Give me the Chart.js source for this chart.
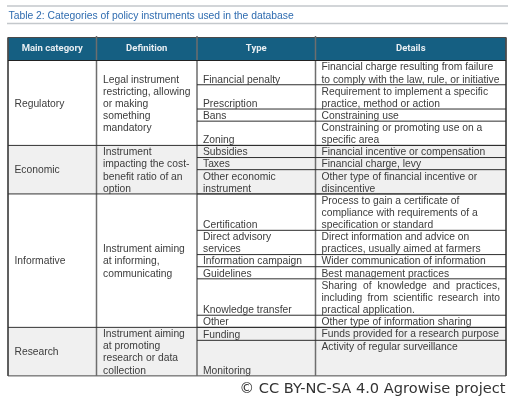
<!DOCTYPE html>
<html>
<head>
<meta charset="utf-8">
<style>
  html, body { margin: 0; padding: 0; background: #fff; }
  canvas { display: block; }
</style>
<script src="https://cdn.jsdelivr.net/npm/chart.js@4/dist/chart.umd.min.js"></script>
</head>
<body>
<canvas id="table" width="512" height="405"></canvas>
<script>
const titleText = 'Table 2: Categories of policy instruments used in the database';
const creditText = '© CC BY-NC-SA 4.0 Agrowise project';
const headers = ['Main category', 'Definition', 'Type', 'Details'];

const mainCategories = ['Regulatory', 'Economic', 'Informative', 'Research'];
const categoryRowCounts = [4, 3, 6, 2];
const definitions = [
    ['Legal instrument', 'restricting, allowing', 'or making', 'something', 'mandatory'],
    ['Instrument', 'impacting the cost-', 'benefit ratio of an', 'option'],
    ['Instrument aiming', 'at informing,', 'communicating'],
    ['Instrument aiming', 'at promoting', 'research or data', 'collection']
];
const types = [
    ['Financial penalty'], ['Prescription'], ['Bans'], ['Zoning'],
    ['Subsidies'], ['Taxes'], ['Other economic', 'instrument'],
    ['Certification'], ['Direct advisory', 'services'], ['Information campaign'],
    ['Guidelines'], ['Knowledge transfer'], ['Other'],
    ['Funding'], ['Monitoring']
];
const details = [
    ['Financial charge resulting from failure', 'to comply with the law, rule, or initiative'],
    ['Requirement to implement a specific', 'practice, method or action'],
    ['Constraining use'],
    ['Constraining or promoting use on a', 'specific area'],
    ['Financial incentive or compensation'],
    ['Financial charge, levy'],
    ['Other type of financial incentive or', 'disincentive'],
    ['Process to gain a certificate of', 'compliance with requirements of a', 'specification or standard'],
    ['Direct information and advice on', 'practices, usually aimed at farmers'],
    ['Wider communication of information'],
    ['Best management practices'],
    ['Sharing of knowledge and practices,', 'including from scientific research into', 'practical application.'],
    ['Other type of information sharing'],
    ['Funds provided for a research purpose'],
    ['Activity of regular surveillance']
];
const rowLines = [2, 2, 1, 2, 1, 1, 2, 3, 2, 1, 1, 3, 1, 1.07, 2.93];
const justifiedRow = 11;
const shadedCategories = [1, 3];

// x scale runs in page columns, y scale in text lines counted from the header's bottom edge
const columnEdges = [8, 96.5, 197, 315.5, 506];
const linePx = 12.13;
const headerBottomPx = 60.5;
const toLine = px => (px - headerBottomPx) / linePx;
const textNudge = 0.08; // body text sits a touch below the line centre

const rowEdges = [0];
rowLines.forEach(n => rowEdges.push(rowEdges[rowEdges.length - 1] + n));
const categoryEdges = [0];
let rowSum = 0;
categoryRowCounts.forEach(n => {
    rowSum += n;
    categoryEdges.push(rowEdges[rowSum]);
});
const headerTop = toLine(37.5);
const tableBottom = rowEdges[rowEdges.length - 1];

function segments(list) {
    const pts = [];
    list.forEach(s => pts.push({ x: s[0], y: s[1] }, { x: s[2], y: s[3] }, { x: NaN, y: NaN }));
    return pts;
}

function ruleSet(list, color, width) {
    return {
        data: segments(list),
        showLine: true,
        spanGaps: false,
        borderColor: color,
        borderWidth: width,
        pointRadius: 0
    };
}

const bodyFont = '10.3px "Liberation Sans"';
const textColor = '#3c3c3c';

const tablePlugin = {
    id: 'tablePlugin',
    beforeDatasetsDraw(chart) {
        const { ctx, scales: { x, y } } = chart;
        const rect = (x0, y0, x1, y1, color) => {
            ctx.fillStyle = color;
            ctx.fillRect(x.getPixelForValue(x0), y.getPixelForValue(y0),
                x.getPixelForValue(x1) - x.getPixelForValue(x0),
                y.getPixelForValue(y1) - y.getPixelForValue(y0));
        };
        rect(columnEdges[0], headerTop, columnEdges[4], 0, '#155f82');
        shadedCategories.forEach(i => {
            rect(columnEdges[0], categoryEdges[i], columnEdges[4], categoryEdges[i + 1], '#f0f0f0');
        });
    },
    afterDatasetsDraw(chart) {
        const { ctx, scales: { x, y } } = chart;
        const put = (s, xv, yv) => ctx.fillText(s, x.getPixelForValue(xv), y.getPixelForValue(yv));
        ctx.save();
        ctx.textBaseline = 'middle';
        ctx.filter = 'blur(0.35px)';

        ctx.font = '10.35px "Liberation Sans"';
        ctx.fillStyle = '#2f6cb0';
        ctx.textAlign = 'left';
        put(titleText, 8.5, toLine(16));

        ctx.font = 'bold 9.5px Roboto';
        ctx.fillStyle = '#e8eef2';
        ctx.textAlign = 'center';
        headers.forEach((h, i) => {
            put(h, (columnEdges[i] + columnEdges[i + 1]) / 2, toLine(48.5));
        });

        ctx.font = bodyFont;
        ctx.fillStyle = textColor;
        ctx.textAlign = 'left';
        mainCategories.forEach((name, i) => {
            const mid = (categoryEdges[i] + categoryEdges[i + 1]) / 2;
            put(name, columnEdges[0] + 6.5, mid + textNudge);
            const lines = definitions[i];
            lines.forEach((line, k) => {
                put(line, columnEdges[1] + 6.5, mid - lines.length / 2 + k + 0.5 + textNudge);
            });
        });

        types.forEach((lines, r) => {
            lines.forEach((line, k) => {
                put(line, columnEdges[2] + 6, rowEdges[r + 1] - lines.length + k + 0.5 + textNudge);
            });
        });

        details.forEach((lines, r) => {
            lines.forEach((line, k) => {
                ctx.wordSpacing = '0px';
                if (r === justifiedRow && k < lines.length - 1) {
                    const gaps = line.split(' ').length - 1;
                    const spare = 500 - (columnEdges[3] + 6) - ctx.measureText(line).width;
                    ctx.wordSpacing = (spare / gaps) + 'px';
                }
                put(line, columnEdges[3] + 6, rowEdges[r] + k + 0.5 + textNudge);
            });
        });
        ctx.wordSpacing = '0px';

        ctx.filter = 'none';
        ctx.font = '14.6px "DejaVu Sans"';
        ctx.fillStyle = '#333333';
        ctx.textAlign = 'right';
        put(creditText, 505.5, toLine(389.5));
        ctx.restore();
    }
};

const verticalInner = columnEdges.slice(1, 4).map(e => [e, toLine(36), e, tableBottom]);
const outerBox = [
    [columnEdges[0], headerTop, columnEdges[4], headerTop],
    [columnEdges[0], tableBottom, columnEdges[4], tableBottom],
    [columnEdges[0], headerTop, columnEdges[0], tableBottom],
    [columnEdges[4], headerTop, columnEdges[4], tableBottom]
];
const headerRule = [[columnEdges[0], 0, columnEdges[4], 0]];
const categoryRules = categoryEdges.slice(1, -1).map(e => [columnEdges[0], e, columnEdges[4], e]);
const rowRules = rowEdges.slice(1, -1).map(e => [columnEdges[2], e, columnEdges[4], e]);
const titleRules = [
    [7, toLine(6), 508, toLine(6)],
    [7, toLine(23.5), 508, toLine(23.5)]
];

new Chart(document.getElementById('table'), {
    type: 'scatter',
    data: {
        datasets: [
            ruleSet(titleRules, '#c4c8cc', 1.5),
            ruleSet(rowRules, '#2e2e2e', 1),
            ruleSet(categoryRules, '#333333', 1),
            ruleSet(headerRule, '#222222', 1),
            ruleSet(verticalInner, '#6e6e6e', 1.5),
            ruleSet(outerBox, '#4a4a4a', 1)
        ]
    },
    options: {
        responsive: false,
        animation: false,
        layout: { padding: 0 },
        plugins: { legend: { display: false }, tooltip: { enabled: false } },
        scales: {
            x: { type: 'linear', display: false, min: 0, max: 512 },
            y: { type: 'linear', display: false, reverse: true, min: toLine(0), max: toLine(405) }
        }
    },
    plugins: [tablePlugin]
});
</script>
</body>
</html>
